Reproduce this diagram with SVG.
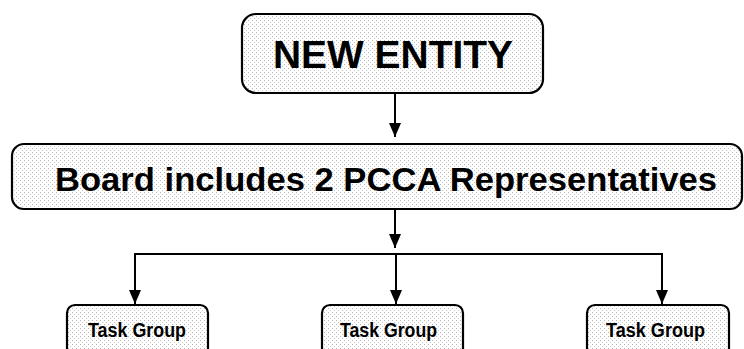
<svg xmlns="http://www.w3.org/2000/svg" width="744" height="349" viewBox="0 0 744 349">
<defs>
<pattern id="dots" x="0" y="0" width="4" height="4" patternUnits="userSpaceOnUse">
<rect width="4" height="4" fill="#ffffff"/>
<rect x="0" y="0" width="1" height="1" fill="#b4b4b4"/>
<rect x="2" y="2" width="1" height="1" fill="#c8c8c8"/>
</pattern>
<marker id="arr" viewBox="0 0 14 12" refX="14" refY="6" markerWidth="14" markerHeight="12" markerUnits="userSpaceOnUse" orient="auto">
<path d="M0,0 L14,6 L0,12 Z" fill="#000"/>
</marker>
</defs>
<style>
.box{fill:url(#dots);stroke:#000;stroke-width:2.2}
.t{font-family:"Liberation Sans",Arial,sans-serif;font-weight:bold;fill:#000}
.c{fill:none;stroke:#000;stroke-width:2}
</style>
<g id="connectors">
<line class="c" x1="395" y1="93" x2="395" y2="137" marker-end="url(#arr)"/>
<line class="c" x1="395" y1="209" x2="395" y2="248" marker-end="url(#arr)"/>
<line class="c" x1="134" y1="254" x2="663" y2="254"/>
<line class="c" x1="135" y1="254" x2="135" y2="304" marker-end="url(#arr)"/>
<line class="c" x1="396" y1="254" x2="396" y2="304" marker-end="url(#arr)"/>
<line class="c" x1="662" y1="253" x2="662" y2="304" marker-end="url(#arr)"/>
</g>
<g id="new-entity">
<rect class="box" x="242" y="14" width="301" height="79" rx="14"/>
<text class="t" x="273" y="68" font-size="39" textLength="240" lengthAdjust="spacingAndGlyphs">NEW ENTITY</text>
</g>
<g id="board">
<rect class="box" x="12" y="144" width="730" height="65" rx="12"/>
<text class="t" x="55" y="191" font-size="33" textLength="662" lengthAdjust="spacingAndGlyphs">Board includes 2 PCCA Representatives</text>
</g>
<g id="task-group-1">
<rect class="box" x="67" y="305" width="141" height="60" rx="8"/>
<text class="t" x="88" y="337" font-size="20" textLength="98" lengthAdjust="spacingAndGlyphs">Task Group</text>
</g>
<g id="task-group-2">
<rect class="box" x="322" y="305" width="141" height="60" rx="8"/>
<text class="t" x="340" y="337" font-size="20" textLength="97" lengthAdjust="spacingAndGlyphs">Task Group</text>
</g>
<g id="task-group-3">
<rect class="box" x="587" y="305" width="142" height="60" rx="8"/>
<text class="t" x="606" y="337" font-size="20" textLength="99" lengthAdjust="spacingAndGlyphs">Task Group</text>
</g>
</svg>
